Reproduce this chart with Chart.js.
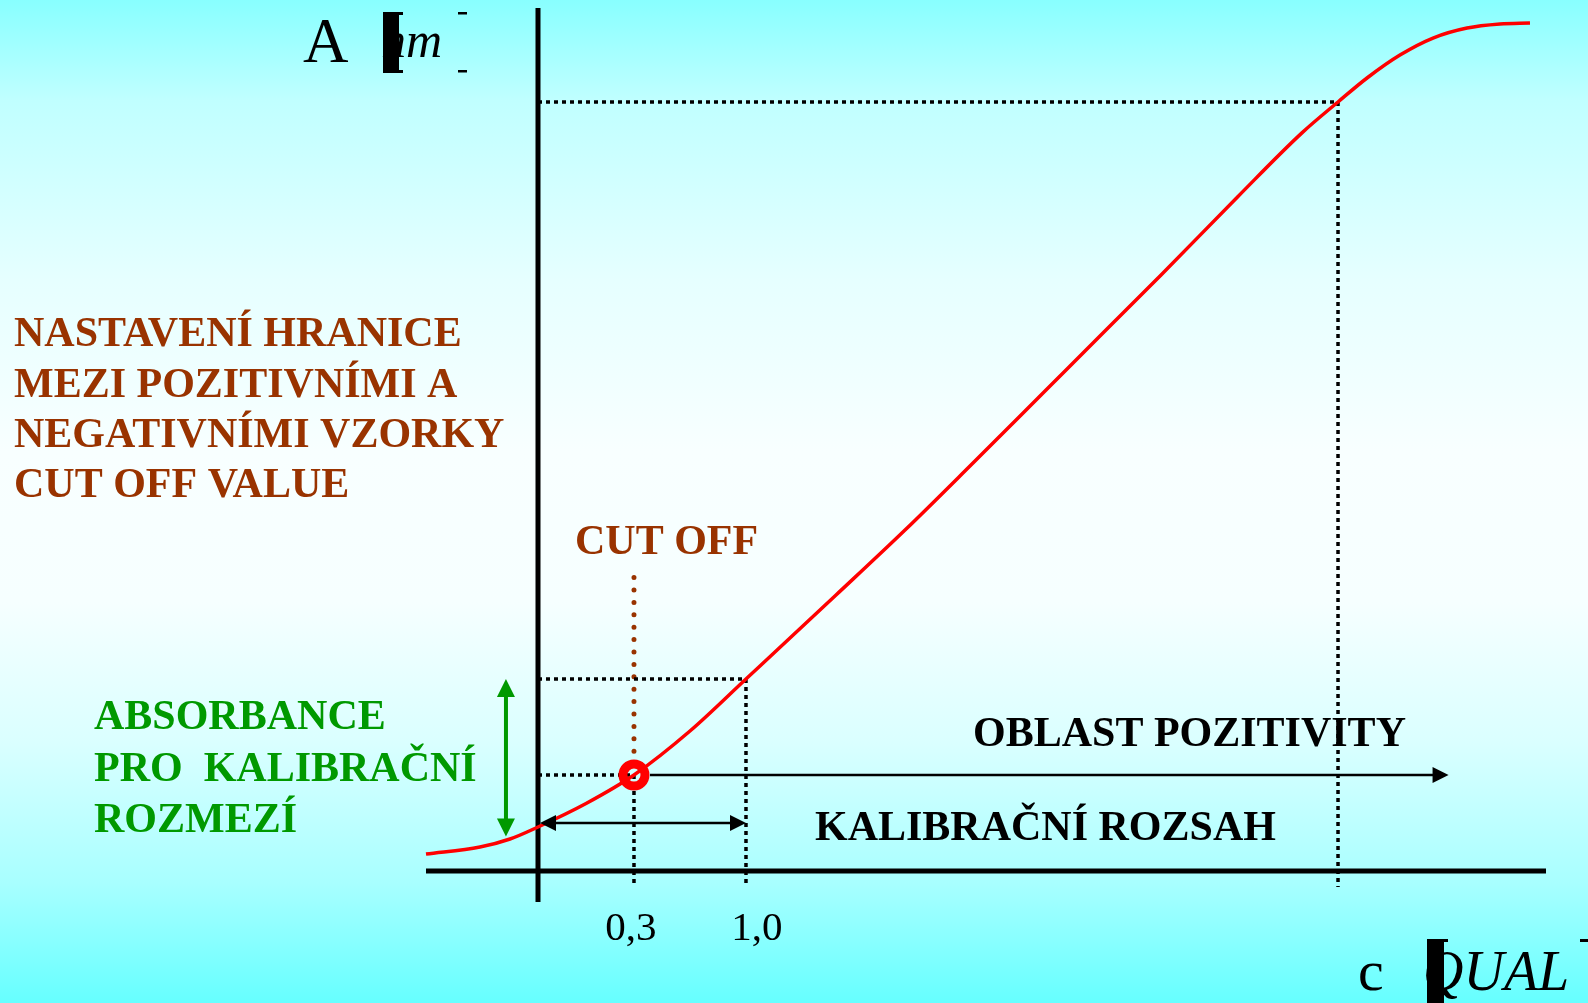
<!DOCTYPE html>
<html>
<head>
<meta charset="utf-8">
<script src="https://cdn.jsdelivr.net/npm/chart.js@4.4.1/dist/chart.umd.min.js"></script>
<style>
  html, body { margin: 0; padding: 0; }
  #wrap {
    width: 1588px; height: 1003px; position: relative;
    background: linear-gradient(to bottom, #88ffff 0%, #c0ffff 10%, #e6ffff 28%, #f8ffff 45%, #f6ffff 60%, #daffff 74%, #a8ffff 88%, #66ffff 100%);
  }
</style>
</head>
<body>
<div id="wrap"><canvas id="curveChart"></canvas></div>
<script>
// calibration curve (x = concentration units, y = absorbance units)
const curveX = [-1.000, -0.518, -0.250, 0.000, 0.429, 0.857, 1.357, 1.857, 2.661, 3.277, 3.857, 4.536, 5.080, 5.563, 6.250, 6.821, 7.143, 7.402, 7.696, 7.991, 8.295, 8.589, 8.857];
const curveY = [0.197, 0.278, 0.371, 0.510, 0.782, 1.112, 1.622, 2.225, 3.198, 3.951, 4.693, 5.574, 6.280, 6.906, 7.816, 8.553, 8.911, 9.189, 9.455, 9.652, 9.768, 9.815, 9.826];

// marked points on the curve
const cutOff = [0.857, 1.112];        // 0,3
const calibration = [1.857, 2.225];   // 1,0
const upperLimit = [7.143, 8.911];
const tickValues = [0.857, 1.857];
const tickLabels = ['0,3', '1,0'];
const belowAxis = -0.185;
const cutOffLabelTop = 3.40;

// arrows
const positivityArrowEnd = 8.13;
const rangeArrowY = 0.556;
const absorbanceArrowX = -0.286;
const absorbanceArrowLow = 0.40;

const xMin = -1, xMax = 9, yMin = 0, yMax = 10;

const brown = '#993300';
const green = '#009900';

function pts(xs, ys) {
  return xs.map((x, i) => ({ x: x, y: ys[i] }));
}

const guideStyle = {
  borderColor: '#000',
  borderWidth: 3.5,
  borderDash: [4, 4],
  pointRadius: 0,
  tension: 0,
  clip: false,
  order: 3
};

const axisStyle = {
  borderColor: '#000',
  borderWidth: 5,
  pointRadius: 0,
  tension: 0,
  clip: false,
  order: 2
};

function arrowHead(ctx, x, y, ang, len, half) {
  const c = Math.cos(ang), s = Math.sin(ang);
  ctx.beginPath();
  ctx.moveTo(x, y);
  ctx.lineTo(x - len * c + half * s, y - len * s - half * c);
  ctx.lineTo(x - len * c - half * s, y - len * s + half * c);
  ctx.closePath();
  ctx.fill();
}

function arrow(ctx, x1, y1, x2, y2, color, width, len, half, both) {
  const ang = Math.atan2(y2 - y1, x2 - x1);
  const c = Math.cos(ang), s = Math.sin(ang);
  ctx.save();
  ctx.strokeStyle = color;
  ctx.fillStyle = color;
  ctx.lineWidth = width;
  ctx.beginPath();
  ctx.moveTo(both ? x1 + len * c * 0.8 : x1, both ? y1 + len * s * 0.8 : y1);
  ctx.lineTo(x2 - len * c * 0.8, y2 - len * s * 0.8);
  ctx.stroke();
  arrowHead(ctx, x2, y2, ang, len, half);
  if (both) arrowHead(ctx, x1, y1, ang + Math.PI, len, half);
  ctx.restore();
}

function text(ctx, str, x, y, font, color) {
  ctx.font = font;
  ctx.fillStyle = color;
  ctx.textBaseline = 'alphabetic';
  ctx.textAlign = 'left';
  ctx.fillText(str, x, y);
}

// arrows and annotation texts
const annotations = {
  id: 'annotations',
  afterDatasetsDraw(chart) {
    const ctx = chart.ctx;
    const xs = chart.scales.x, ys = chart.scales.y;
    const px = v => xs.getPixelForValue(v);
    const py = v => ys.getPixelForValue(v);

    // region of positivity arrow, starts at the edge of the cut-off ring
    arrow(ctx, px(cutOff[0]) + 16, py(cutOff[1]), px(positivityArrowEnd), py(cutOff[1]), '#000', 2.5, 16, 8, false);
    // calibration range double arrow
    arrow(ctx, px(0) + 2, py(rangeArrowY), px(calibration[0]), py(rangeArrowY), '#000', 2.5, 16, 8, true);
    // absorbance double arrow (green)
    arrow(ctx, px(absorbanceArrowX), py(absorbanceArrowLow), px(absorbanceArrowX), py(calibration[1]), green, 4, 18, 9, true);

    ctx.save();
    const bold = 'bold 42px "Liberation Serif", "DejaVu Serif", serif';
    text(ctx, 'NASTAVENÍ HRANICE', 14, 346, bold, brown);
    text(ctx, 'MEZI POZITIVNÍMI A', 14, 397, bold, brown);
    text(ctx, 'NEGATIVNÍMI VZORKY', 14, 447, bold, brown);
    text(ctx, 'CUT OFF VALUE', 14, 497, bold, brown);
    text(ctx, 'CUT OFF', 575, 554, bold, brown);

    text(ctx, 'ABSORBANCE', 94, 729, bold, green);
    text(ctx, 'PRO  KALIBRAČNÍ', 94, 781, bold, green);
    text(ctx, 'ROZMEZÍ', 94, 832, bold, green);

    text(ctx, 'OBLAST POZITIVITY', 973, 746, bold, '#000');
    text(ctx, 'KALIBRAČNÍ ROZSAH', 815, 840, bold, '#000');

    // tick labels under the concentration axis
    ctx.font = '41px "Liberation Serif", serif';
    ctx.fillStyle = '#000';
    ctx.textAlign = 'center';
    const tickShift = [-3, 11];
    tickLabels.forEach((lab, i) => {
      ctx.fillText(lab, px(tickValues[i]) + tickShift[i], 940);
    });

    // axis titles, the brackets came out as solid bars in the source
    text(ctx, 'A', 303, 62, '63px "Liberation Serif", serif', '#000');
    text(ctx, 'nm', 381, 57, 'italic 50px "Liberation Serif", serif', '#000');
    ctx.fillStyle = '#000';
    ctx.fillRect(383, 12, 16, 61);
    ctx.fillRect(399, 12, 4, 3);
    ctx.fillRect(399, 70, 4, 3);
    ctx.fillRect(458, 12, 9, 2.5);
    ctx.fillRect(458, 70, 9, 2.5);

    text(ctx, 'c', 1358, 990, '58px "Liberation Serif", serif', '#000');
    text(ctx, 'QUAL', 1423, 990, 'italic 56px "Liberation Serif", serif', '#000');
    ctx.fillStyle = '#000';
    ctx.fillRect(1427, 939, 17, 64);
    ctx.fillRect(1444, 939, 4, 3);
    ctx.fillRect(1580, 939, 8, 3);
    ctx.restore();
  }
};

new Chart(document.getElementById('curveChart'), {
  type: 'line',
  data: {
    datasets: [
      {
        label: 'cut off',
        data: [{ x: cutOff[0], y: cutOff[1] }],
        showLine: false,
        pointRadius: 11,
        pointBorderWidth: 9,
        pointBorderColor: '#ff0000',
        pointBackgroundColor: 'rgba(0,0,0,0)',
        clip: false,
        order: 0
      },
      {
        label: 'curve',
        data: pts(curveX, curveY),
        borderColor: '#ff0000',
        borderWidth: 3.5,
        pointRadius: 0,
        cubicInterpolationMode: 'monotone',
        clip: false,
        order: 1
      },
      Object.assign({ label: 'x axis', data: [{ x: xMin, y: 0 }, { x: xMax, y: 0 }] }, axisStyle),
      Object.assign({ label: 'y axis', data: [{ x: 0, y: -0.36 }, { x: 0, y: yMax }] }, axisStyle),
      Object.assign({ label: 'calibration guide', data: [{ x: 0, y: calibration[1] }, { x: calibration[0], y: calibration[1] }, { x: calibration[0], y: belowAxis }] }, guideStyle),
      Object.assign({ label: 'cut off guide', data: [{ x: 0, y: cutOff[1] }, { x: cutOff[0], y: cutOff[1] }, { x: cutOff[0], y: belowAxis }] }, guideStyle),
      Object.assign({ label: 'upper guide', data: [{ x: 0, y: upperLimit[1] }, { x: upperLimit[0], y: upperLimit[1] }, { x: upperLimit[0], y: belowAxis }] }, guideStyle),
      {
        label: 'cut off marker line',
        data: [{ x: cutOff[0], y: cutOffLabelTop }, { x: cutOff[0], y: cutOff[1] }],
        borderColor: brown,
        borderWidth: 5,
        borderDash: [0, 12.4],
        borderCapStyle: 'round',
        pointRadius: 0,
        clip: false,
        order: 3
      }
    ]
  },
  options: {
    responsive: true,
    maintainAspectRatio: false,
    animation: false,
    layout: { autoPadding: false, padding: { left: 426, right: 42, top: 8, bottom: 132 } },
    plugins: { legend: { display: false }, tooltip: { enabled: false } },
    scales: {
      x: { type: 'linear', min: xMin, max: xMax, display: false },
      y: { type: 'linear', min: yMin, max: yMax, display: false }
    }
  },
  plugins: [annotations]
});
</script>
</body>
</html>
